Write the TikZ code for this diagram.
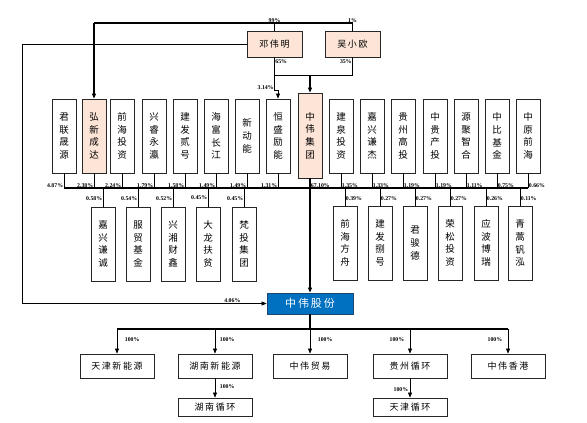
\documentclass[tikz,border=0pt]{standalone}
\usepackage{fontspec}
\setmainfont{Liberation Serif}
\newfontfamily\cjk[LetterSpace=18]{Noto Sans CJK SC}
\newfontfamily\cjkv{Noto Sans CJK SC}
\usetikzlibrary{arrows.meta}
\definecolor{peach}{RGB}{252,228,214}
\definecolor{zwblue}{RGB}{0,112,192}
\definecolor{zwedge}{RGB}{30,70,110}
\tikzset{
  vbox/.style={draw=black!85,line width=0.8pt,minimum width=24pt,minimum height=74pt,inner sep=0pt,align=center,font=\cjkv\fontsize{9.5}{12.7}\selectfont},
  hbox/.style={draw=black!85,line width=0.8pt,minimum width=74pt,minimum height=24pt,inner sep=0pt,font=\cjk\fontsize{9}{10}\selectfont},
  pct/.style={font=\bfseries\fontsize{5.8}{6.5}\selectfont,inner sep=0.6pt},
  link/.style={line width=0.6pt},
  main/.style={line width=1.3pt},
  tip/.style={-{Triangle[length=5pt,width=4pt]}}
}
\begin{document}
\begin{tikzpicture}[x=1pt,y=-1pt]
   \useasboundingbox (0,0) rectangle (587,423);
   \path (274.5,44) node[hbox,fill=peach,minimum width=55pt,minimum height=26pt] (DW) {邓伟明};
   \path (352.5,44) node[hbox,fill=peach,minimum width=55pt,minimum height=26pt] (WX) {吴小欧};
   \path (64,136) node[vbox] (P1) {君\\联\\晟\\源};
   \path (94,136) node[vbox,fill=peach] (P2) {弘\\新\\成\\达};
   \path (122,136) node[vbox] (P3) {前\\海\\投\\资};
   \path (154,136) node[vbox] (P4) {兴\\睿\\永\\瀛};
   \path (185,136) node[vbox] (P5) {建\\发\\贰\\号};
   \path (216,136) node[vbox] (P6) {海\\富\\长\\江};
   \path (247,136) node[vbox] (P7) {新\\动\\能};
   \path (278,136) node[vbox] (P8) {恒\\盛\\励\\能};
   \path (310,135.5) node[vbox,fill=peach,minimum height=85pt] (ZJ) {中\\伟\\集\\团};
   \path (341,136) node[vbox] (P10) {建\\泉\\投\\资};
   \path (372,136) node[vbox] (P11) {嘉\\兴\\谦\\杰};
   \path (403,136) node[vbox] (P12) {贵\\州\\高\\投};
   \path (435,136) node[vbox] (P13) {中\\贵\\产\\投};
   \path (466,136) node[vbox] (P14) {源\\聚\\智\\合};
   \path (497,136) node[vbox] (P15) {中\\比\\基\\金};
   \path (528,136) node[vbox] (P16) {中\\原\\前\\海};
   \path (103,244) node[vbox] (Q1) {嘉\\兴\\谦\\诚};
   \path (138,244) node[vbox] (Q2) {服\\贸\\基\\金};
   \path (173,244) node[vbox] (Q3) {兴\\湘\\财\\鑫};
   \path (208,244) node[vbox] (Q4) {大\\龙\\扶\\贫};
   \path (244,244) node[vbox] (Q5) {梵\\投\\集\\团};
   \path (345,243) node[vbox] (Q6) {前\\海\\方\\舟};
   \path (380,243) node[vbox] (Q7) {建\\发\\捌\\号};
   \path (415,243) node[vbox] (Q8) {君\\骏\\德};
   \path (450,243) node[vbox] (Q9) {荣\\松\\投\\资};
   \path (486,243) node[vbox] (Q10) {应\\波\\博\\瑞};
   \path (520,243) node[vbox] (Q11) {青\\蒿\\钒\\泓};
   \path (310,303.5) node[draw=zwedge,line width=0.8pt,fill=zwblue,text=white,minimum width=86pt,minimum height=21pt,inner sep=0pt,font=\cjk\fontsize{11}{12}\selectfont] (ZW) {中伟股份};
   \path (117,366) node[hbox] (C1) {天津新能源};
   \path (215,366) node[hbox] (C2) {湖南新能源};
   \path (310,366) node[hbox] (C3) {中伟贸易};
   \path (410,366) node[hbox] (C4) {贵州循环};
   \path (508,366) node[hbox] (C5) {中伟香港};
   \path (215,407) node[hbox,minimum height=18pt] (D1) {湖南循环};
   \path (410,407) node[hbox,minimum height=18pt] (D2) {天津循环};
   \coordinate (TL) at (94,23);
   \coordinate (ML) at (274.5,75);
   \coordinate (BL) at (64,188);
   \coordinate (BR) at (528,188);
   \coordinate (LL) at (22,44);
   \coordinate (GL) at (117,329);
   \coordinate (GR) at (508,329);
   \draw[link] (DW.north) -- (DW.north |- TL) node[pct,above] {99\%};
   \draw[link] (WX.north) -- (WX.north |- TL) node[pct,above] {1\%};
   \draw[main] (WX.north |- TL) -- (TL);
   \draw[main,tip] (TL) -- (P2.north);
   \draw[link] (DW.south) -- (ML) node[pct,pos=0.25,right] {65\%};
   \draw[link] (WX.south) -- (WX.south |- ML) node[pct,pos=0.25,left] {35\%};
   \draw[link] (ML) -- (WX.south |- ML);
   \draw[main,tip] (ZJ.north |- ML) -- (ZJ.north);
   \draw[link,tip] (ML) -- (274.5,90) node[pct,above left] {3.14\%} -| (P8.north);
   \draw[link,tip] (DW.west) -- (LL) |- (ZW.west) node[pct,pos=0.93,above] {4.06\%};
   \draw[main] (BL) -- (BR);
   \draw[link] (P1.south) -- (P1.south |- BL) node[pct,above left] {4.87\%};
   \draw[link] (P2.south) -- (P2.south |- BL) node[pct,above left] {2.38\%};
   \draw[link] (P3.south) -- (P3.south |- BL) node[pct,above left] {2.24\%};
   \draw[link] (P4.south) -- (P4.south |- BL) node[pct,above left] {1.79\%};
   \draw[link] (P5.south) -- (P5.south |- BL) node[pct,above left] {1.58\%};
   \draw[link] (P6.south) -- (P6.south |- BL) node[pct,above left] {1.49\%};
   \draw[link] (P7.south) -- (P7.south |- BL) node[pct,above left] {1.49\%};
   \draw[link] (P8.south) -- (P8.south |- BL) node[pct,above left] {1.31\%};
   \draw[link] (ZJ.south) -- (ZJ.south |- BL) node[pct,above right] {67.10\%};
   \draw[link] (P10.south) -- (P10.south |- BL) node[pct,above right] {1.35\%};
   \draw[link] (P11.south) -- (P11.south |- BL) node[pct,above right] {1.33\%};
   \draw[link] (P12.south) -- (P12.south |- BL) node[pct,above right] {1.19\%};
   \draw[link] (P13.south) -- (P13.south |- BL) node[pct,above right] {1.19\%};
   \draw[link] (P14.south) -- (P14.south |- BL) node[pct,above right] {1.11\%};
   \draw[link] (P15.south) -- (P15.south |- BL) node[pct,above right] {0.75\%};
   \draw[link] (P16.south) -- (P16.south |- BL) node[pct,above right] {0.66\%};
   \draw[link] (Q1.north |- BL) -- (Q1.north) node[pct,pos=0.55,left] {0.58\%};
   \draw[link] (Q2.north |- BL) -- (Q2.north) node[pct,pos=0.55,left] {0.54\%};
   \draw[link] (Q3.north |- BL) -- (Q3.north) node[pct,pos=0.55,left] {0.52\%};
   \draw[link] (Q4.north |- BL) -- (Q4.north) node[pct,pos=0.5,left] {0.45\%};
   \draw[link] (Q5.north |- BL) -- (Q5.north) node[pct,pos=0.55,left] {0.45\%};
   \draw[link] (Q6.north |- BL) -- (Q6.north) node[pct,pos=0.6,right] {0.39\%};
   \draw[link] (Q7.north |- BL) -- (Q7.north) node[pct,pos=0.6,right] {0.27\%};
   \draw[link] (Q8.north |- BL) -- (Q8.north) node[pct,pos=0.6,right] {0.27\%};
   \draw[link] (Q9.north |- BL) -- (Q9.north) node[pct,pos=0.6,right] {0.27\%};
   \draw[link] (Q10.north |- BL) -- (Q10.north) node[pct,pos=0.6,right] {0.26\%};
   \draw[link] (Q11.north |- BL) -- (Q11.north) node[pct,pos=0.6,right] {0.11\%};
   \draw[main,tip] (ZJ.south) -- (ZW.north);
   \draw[main] (ZW.south) -- (ZW.south |- GL);
   \draw[main] (GL) -- (GR);
   \draw[link,tip] (GL) -- (C1.north) node[pct,pos=0.45,right=7pt] {100\%};
   \draw[link,tip] (C2.north |- GL) -- (C2.north) node[pct,pos=0.45,right=4pt] {100\%};
   \draw[link,tip] (C3.north |- GL) -- (C3.north) node[pct,pos=0.45,right=7pt] {100\%};
   \draw[link,tip] (C4.north |- GL) -- (C4.north) node[pct,pos=0.45,left=5pt] {100\%};
   \draw[link,tip] (GR) -- (C5.north) node[pct,pos=0.45,left=5pt] {100\%};
   \draw[link,tip] (C2.south) -- (D1.north) node[pct,pos=0.45,right=4pt] {100\%};
   \draw[link,tip] (C4.south) -- (D2.north) node[pct,pos=0.6,left=1pt] {100\%};
\end{tikzpicture}
\end{document}
